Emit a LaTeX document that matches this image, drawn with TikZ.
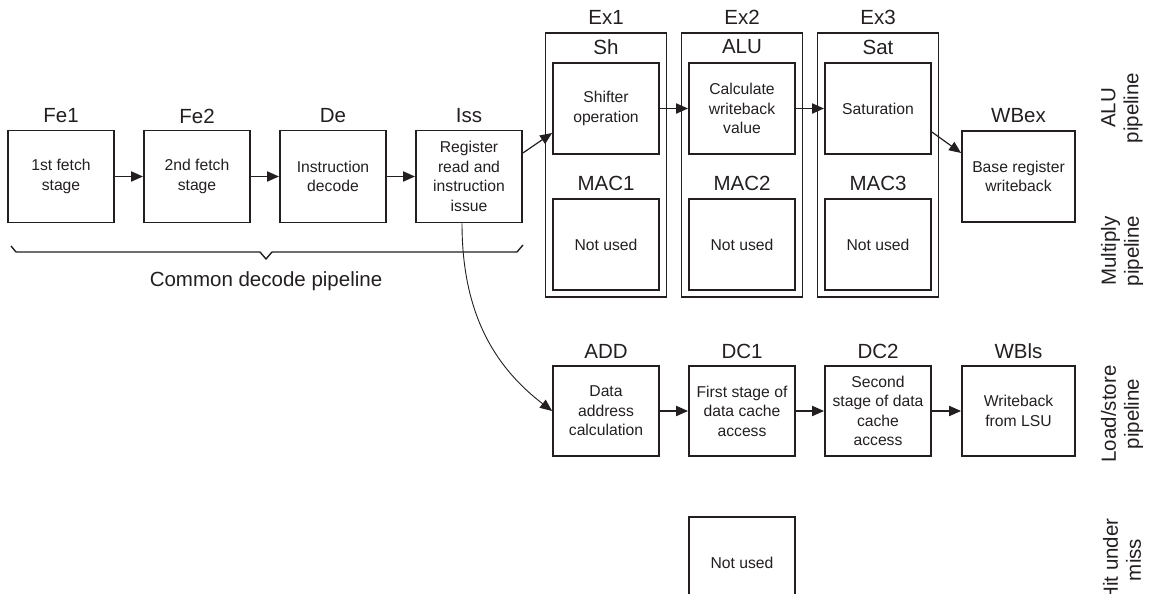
\documentclass[tikz,border=0pt]{standalone}
\usepackage{fontspec}
\setmainfont{Liberation Sans}
\usetikzlibrary{arrows.meta,positioning}

\definecolor{ink}{HTML}{231F20}
\tikzset{
  stagebox/.style={draw=ink, line width=1.8pt, minimum width=106pt, minimum height=92pt,
    align=center, inner sep=1pt, text=ink, font=\fontsize{15.7}{19.5}\selectfont},
  grpbox/.style={draw=ink, line width=1.8pt, minimum width=121pt, minimum height=264pt},
  lab/.style={text=ink, align=center, font=\fontsize{20.5}{23}\selectfont},
  flow/.style={draw=ink, line width=1.8pt, -{Triangle[length=12pt,width=10pt]}},
  skew/.style={draw=ink, line width=1.2pt, -{Triangle[length=12pt,width=10pt]}},
}

\begin{document}
\begin{tikzpicture}[x=1pt,y=-1pt]
  \clip (0,0) rectangle (1152,594);
  % common decode pipeline
  \node[stagebox] (fe1) at (61,176.5) {1st fetch\\stage};
  \node[stagebox] (fe2) at (197,176.5) {2nd fetch\\stage};
  \node[stagebox] (de) at (333,176.5) {Instruction\\decode};
  \node[stagebox] (iss) at (469,176.5) {Register\\read and\\instruction\\issue};
  \node[lab] (fe1lab) at (61,116) {Fe1};
  \node[lab] (fe2lab) at (197,116) {Fe2};
  \node[lab] (delab) at (333,116) {De};
  \node[lab] (isslab) at (469,116) {Iss};
  \draw[flow] (fe1) -- (fe2);
  \draw[flow] (fe2) -- (de);
  \draw[flow] (de) -- (iss);
  \draw[draw=ink, line width=1.4pt] (11,246) -- (16,252) -- (260,252) -- (266,259)
    -- (272,252) -- (517,252) -- (523,245);
  \node[lab] (common) at (266,281) {Common decode pipeline};

  % execute stages
  \node[grpbox] (ex1) at (606,165) {};
  \node[grpbox] (ex2) at (742,165) {};
  \node[grpbox] (ex3) at (878,165) {};
  \node[lab] (ex1lab) at (606,17) {Ex1};
  \node[lab] (ex2lab) at (742,17) {Ex2};
  \node[lab] (ex3lab) at (878,17) {Ex3};
  \node[stagebox, minimum height=91pt] (sh) at (606,108.5) {Shifter\\operation};
  \node[stagebox, minimum height=91pt] (alu) at (742,108.5) {Calculate\\writeback\\value};
  \node[stagebox, minimum height=91pt] (sat) at (878,108.5) {Saturation};
  \node[lab] (shlab) at (606,47) {Sh};
  \node[lab] (alulab) at (742,47) {ALU};
  \node[lab] (satlab) at (878,47) {Sat};
  \node[stagebox, minimum height=91pt] (mac1) at (606,244.5) {Not used};
  \node[stagebox, minimum height=91pt] (mac2) at (742,244.5) {Not used};
  \node[stagebox, minimum height=91pt] (mac3) at (878,244.5) {Not used};
  \node[lab] (mac1lab) at (606,183) {MAC1};
  \node[lab] (mac2lab) at (742,183) {MAC2};
  \node[lab] (mac3lab) at (878,183) {MAC3};
  \node[stagebox, minimum width=113pt, minimum height=91pt] (wbex) at (1018.5,176.5) {Base register\\writeback};
  \node[lab] (wbexlab) at (1018.5,116) {WBex};
  \draw[skew] ([yshift=23.5pt]iss.east) -- ([yshift=-24.5pt]sh.west);
  \draw[flow] (sh) -- (alu);
  \draw[flow] (alu) -- (sat);
  \draw[skew] ([yshift=-23.5pt]sat.east) -- ([yshift=23.5pt]wbex.west);

  % load/store pipeline
  \node[stagebox, minimum height=90pt] (add) at (606,411) {Data\\address\\calculation};
  \node[stagebox, minimum height=90pt] (dc1) at (742,411) {First stage of\\data cache\\access};
  \node[stagebox, minimum height=90pt] (dc2) at (878,411) {Second\\stage of data\\cache\\access};
  \node[stagebox, minimum width=113pt, minimum height=90pt] (wbls) at (1018.5,411) {Writeback\\from LSU};
  \node[lab] (addlab) at (606,351) {ADD};
  \node[lab] (dc1lab) at (742,351) {DC1};
  \node[lab] (dc2lab) at (878,351) {DC2};
  \node[lab] (wblslab) at (1018.5,351) {WBls};
  \draw[flow] (add) -- (dc1);
  \draw[flow] (dc1) -- (dc2);
  \draw[flow] (dc2) -- (wbls);
  \draw[draw=ink, line width=0.9pt, -{Triangle[length=12pt,width=10pt]}]
    ([xshift=-7pt]iss.south) .. controls +(0,97) and +(-52,-40) .. (add.west);

  % hit under miss
  \node[stagebox] (hum) at (742,563) {Not used};

  % pipeline names
  \node[lab, rotate=90] (alupipe) at (1122,108) {ALU\\pipeline};
  \node[lab, rotate=90] (mulpipe) at (1122,251) {Multiply\\pipeline};
  \node[lab, rotate=90] (lspipe) at (1122,414) {Load/store\\pipeline};
  \node[lab, rotate=90] (humpipe) at (1122,560) {Hit under\\miss};
\end{tikzpicture}
\end{document}
